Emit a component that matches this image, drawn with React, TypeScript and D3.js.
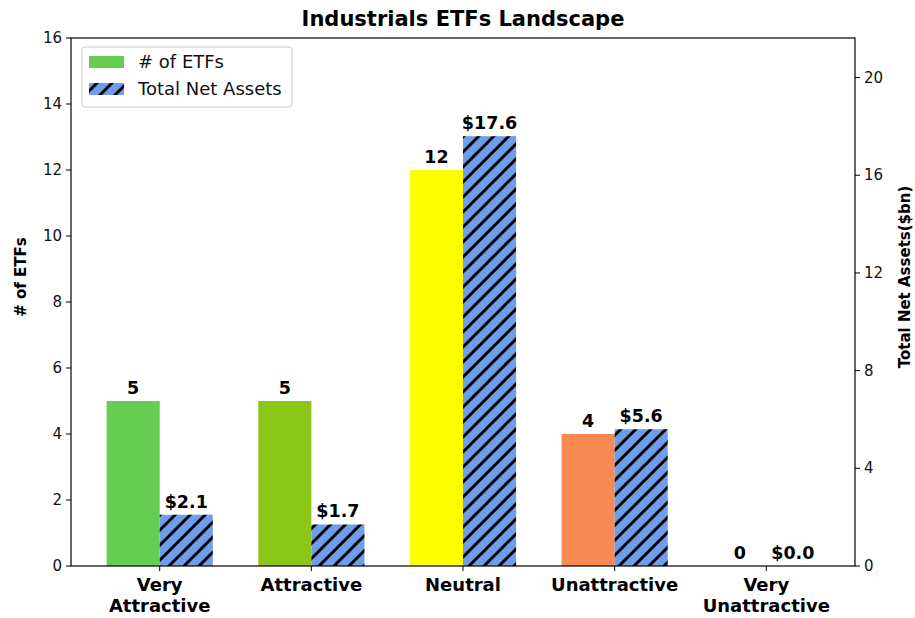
import React from "react";
import * as d3 from "d3";

const categories = ["Very\nAttractive", "Attractive", "Neutral", "Unattractive", "Very\nUnattractive"];
const etfCounts = [5, 5, 12, 4, 0];
const netAssets = [2.1, 1.7, 17.6, 5.6, 0.0];
const barColors = ["#66cc52", "#8cc619", "#ffff00", "#f78952", "#6d9eeb"];
const leftTicks = [0, 2, 4, 6, 8, 10, 12, 14, 16];
const rightTicks = [0, 4, 8, 12, 16, 20];

const W = 915, H = 618;
const M = { left: 71, right: 855, top: 38, bottom: 566 };
const FONT = "DejaVu Sans, sans-serif";
const BW = 0.35;
const LABEL_CY = 277;

export default function App() {
  const x = d3.scaleLinear().domain([-0.585, categories.length - 1 + 0.585]).range([M.left, M.right]);
  const yL = d3.scaleLinear().domain([0, 16]).range([M.bottom, M.top]);
  const yR = d3.scaleLinear().domain([0, 21.62]).range([M.bottom, M.top]);
  const bw = x(BW) - x(0);

  return (
    <svg width={W} height={H} style={{ position: "absolute", left: 0, top: 0, background: "#fff" }} fontFamily={FONT}>
      <defs>
        <pattern id="hatch" patternUnits="userSpaceOnUse" width="15" height="15">
          <rect width="15" height="15" fill="#6d9eeb" />
          <path d="M-3,18 L18,-3 M-5,5 L5,-5 M10,20 L20,10" stroke="#000" strokeWidth="3" />
        </pattern>
      </defs>
      <text x={(M.left + M.right) / 2} y={26} textAnchor="middle" fontSize={21} fontWeight="bold">Industrials ETFs Landscape</text>

      {categories.map((c, i) => (
        <g key={i}>
          <rect x={x(i) - bw} y={yL(etfCounts[i])} width={bw} height={yL(0) - yL(etfCounts[i])} fill={barColors[i]} />
          <rect x={x(i)} y={yR(netAssets[i])} width={bw} height={yR(0) - yR(netAssets[i])} fill="url(#hatch)" />
          <text x={x(i) - bw / 2} y={yL(etfCounts[i]) - 7} textAnchor="middle" fontSize={17.5} fontWeight="bold">{etfCounts[i]}</text>
          <text x={x(i) + bw / 2} y={yR(netAssets[i]) - 7} textAnchor="middle" fontSize={17.5} fontWeight="bold">${netAssets[i].toFixed(1)}</text>
          <line x1={x(i)} x2={x(i)} y1={M.bottom} y2={M.bottom + 5} stroke="#000" />
          {c.split("\n").map((t, j) => (
            <text key={j} x={x(i)} y={M.bottom + 25 + j * 21} textAnchor="middle" fontSize={18} fontWeight="bold">{t}</text>
          ))}
        </g>
      ))}

      <rect x={M.left} y={M.top} width={M.right - M.left} height={M.bottom - M.top} fill="none" stroke="#000" strokeWidth={1.2} />

      {leftTicks.map(t => (
        <g key={t}>
          <line x1={M.left - 5} x2={M.left} y1={yL(t)} y2={yL(t)} stroke="#000" />
          <text x={M.left - 9} y={yL(t) + 5} textAnchor="end" fontSize={15} fill="#111">{t}</text>
        </g>
      ))}
      {rightTicks.map(t => (
        <g key={t}>
          <line x1={M.right} x2={M.right + 5} y1={yR(t)} y2={yR(t)} stroke="#000" />
          <text x={M.right + 9} y={yR(t) + 5} textAnchor="start" fontSize={15} fill="#111">{t}</text>
        </g>
      ))}

      <text transform={`translate(26,${LABEL_CY}) rotate(-90)`} textAnchor="middle" fontSize={15} fontWeight="bold"># of ETFs</text>
      <text transform={`translate(910,${LABEL_CY}) rotate(-90)`} textAnchor="middle" fontSize={15} fontWeight="bold">Total Net Assets($bn)</text>

      <g>
        <rect x={82} y={47} width={210} height={60} rx={3} fill="#fff" stroke="#ccc" />
        <rect x={89} y={56} width={35} height={12} fill={barColors[0]} />
        <text x={138} y={68} fontSize={18} fill="#111"># of ETFs</text>
        <rect x={89} y={83} width={35} height={12} fill="url(#hatch)" />
        <text x={138} y={95} fontSize={18} fill="#111">Total Net Assets</text>
      </g>
    </svg>
  );
}
